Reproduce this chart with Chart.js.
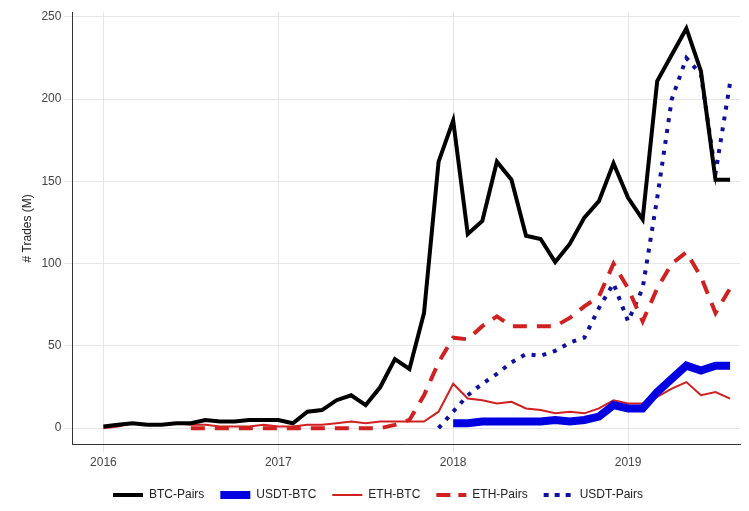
<!DOCTYPE html>
<html><head><script src="https://cdn.jsdelivr.net/npm/chart.js@4"></script>
<style>body{margin:0;background:#fff}#w{width:749px;height:511px}</style></head>
<body><div id="w"><canvas id="c"></canvas></div>
<script>
const startYear=2016;
const btcPairs=[1,2,3,2,2,3,3,5,4,4,5,5, 5,3,10,11,17,20,14,25,42,36,70,162, 187,118,126,162,151,117,115,101,112,128,138,161, 140,127,211,227,243,217,151,151];
const ethBtc=[0,1,3,2,2,3,2,2,1,1,1,2, 1,1,2,2,3,4,3,4,4,4,4,10, 27,18,17,15,16,12,11,9,10,9,12,17, 15,15,19,24,28,20,22,18];
const ethPairsStart=6;
const ethPairs=[0,0,0,0,0,0, 0,0,0,0,0,0,0,0,2,5,20,40, 55,54,62,68,62,62,62,62,67,74,80,100, 85,65,85,100,107,92,70,85];
const usdtBtcStart=24;
const usdtBtc=[3,3,4,4,4,4,4,5,4,5,7,14, 12,12,22,30,38,35,38,38];
const usdtPairsStart=23;
const usdtPairs=[0,10,20,27,33,40,45,44,47,52,55,73,88, 65,85,140,200,225,215,155,210];
const pts=(arr,s)=>arr.map((v,i)=>({x:startYear+(s+i)/12,y:v}));
new Chart(document.getElementById('c'),{type:'line',
data:{datasets:[
{label:'BTC-Pairs',data:pts(btcPairs,0),borderColor:'#000',backgroundColor:'#000',borderWidth:4},
{label:'USDT-BTC',data:pts(usdtBtc,usdtBtcStart),borderColor:'#0000e0',backgroundColor:'#0000e0',borderWidth:8},
{label:'ETH-BTC',data:pts(ethBtc,0),borderColor:'#d02020',backgroundColor:'#d02020',borderWidth:2},
{label:'ETH-Pairs',data:pts(ethPairs,ethPairsStart),borderColor:'#d02020',backgroundColor:'#d02020',borderWidth:4,borderDash:[14,10]},
{label:'USDT-Pairs',data:pts(usdtPairs,usdtPairsStart),borderColor:'#1010a0',backgroundColor:'#1010a0',borderWidth:4,borderDash:[4,7]}
]},
options:{responsive:true,maintainAspectRatio:false,animation:false,
layout:{padding:{left:16,right:9,top:12,bottom:0}},
elements:{point:{radius:0},line:{tension:0}},
plugins:{legend:{position:'bottom',labels:{boxWidth:30,boxHeight:0,color:'#222',font:{size:12,family:'Liberation Sans'},padding:16}}},
scales:{x:{type:'linear',min:2015.823,max:2019.64,afterBuildTicks:a=>{a.ticks=[2016,2017,2018,2019].map(v=>({value:v}));},
ticks:{color:'#444',font:{size:12,family:'Liberation Sans'},callback:v=>String(v)},grid:{color:'#e6e6e6'},border:{color:'#333'}},
y:{min:-10,max:253,afterBuildTicks:a=>{a.ticks=[0,50,100,150,200,250].map(v=>({value:v}));},
ticks:{color:'#444',font:{size:12,family:'Liberation Sans'}},grid:{color:'#e6e6e6'},border:{color:'#333'},
title:{display:true,text:'# Trades (M)',color:'#222',font:{size:12,family:'Liberation Sans'}}}}}});
</script></body></html>
